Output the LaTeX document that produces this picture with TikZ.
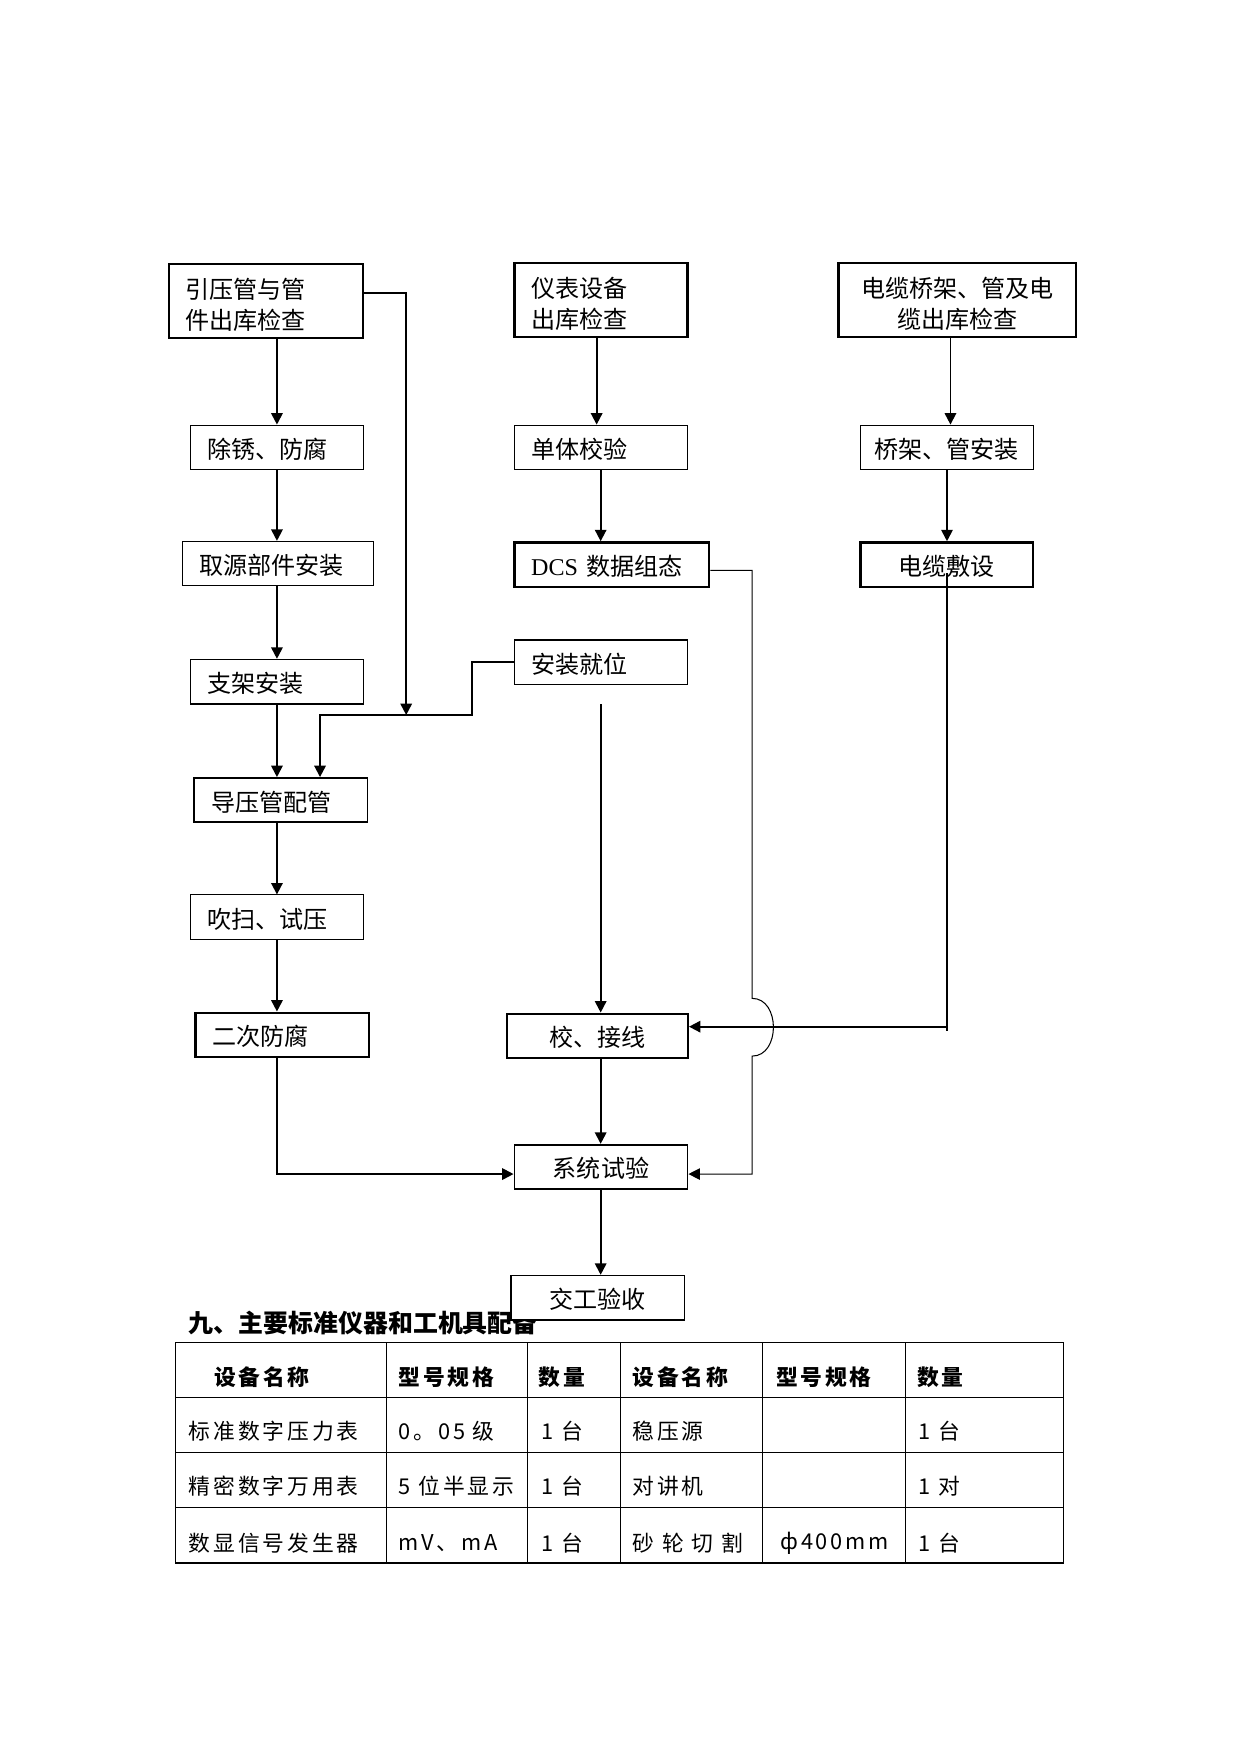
\documentclass[tikz,border=0pt]{standalone}
\usepackage{fontspec}
\setmainfont{Liberation Serif}
\newfontfamily\cjk{Noto Sans CJK SC}
\newfontfamily\cjksp[LetterSpace=13]{Noto Sans CJK SC}
\usetikzlibrary{arrows.meta}
\newcommand{\pu}{0.1895mm}
\tikzset{
	box/.style={draw, fill=white, inner ysep=0pt, minimum height=39.6*\pu, text height=11.5pt, font=\cjk\fontsize{11.6}{14.8}\selectfont},
	twoline/.style={minimum height=65.6*\pu, text height=13.2pt},
	thinbox/.style={box, line width=0.5pt},
	midbox/.style={box, line width=0.8pt},
	thickbox/.style={box, line width=1.1pt},
	lbox/.style={align=left, inner xsep=15*\pu, minimum width=#1*\pu, text width=#1*\pu-30*\pu},
	cbox/.style={align=center, inner xsep=0pt, minimum width=#1*\pu, text width=#1*\pu},
	arr/.style={-{Triangle[length=5.5pt,width=5.5pt]}, line width=0.9pt},
	thinarr/.style={-{Triangle[length=5.5pt,width=5.5pt]}, line width=0.5pt},
	cell/.style={anchor=west, inner sep=0pt, font=\cjksp\fontsize{10.5}{12}\selectfont},
	headcell/.style={cell, font=\cjksp\bfseries\fontsize{10.5}{12}\selectfont}
}
\begin{document}
\begin{tikzpicture}[x=\pu, y=-\pu]
	\useasboundingbox (0,0) rectangle (1109,1567.5);

	\node[anchor=west, inner sep=0pt, font=\cjk\bfseries\fontsize{12}{14}\selectfont] (title) at (168.5,1182.4) {九、主要标准仪器和工机具配备};

	\node[thickbox, lbox=173.8, twoline] (yinya) at (237.8,269) {引压管与管\\件出库检查};
	\node[thickbox, lbox=154.8, twoline] (yibiao) at (537.1,268.1) {仪表设备\\出库检查};
	\node[thickbox, cbox=212.4, twoline] (qiaojiack) at (855.6,268.1) {电缆桥架、管及电\\缆出库检查};
	\node[thinbox, lbox=154.4] (chuxiu) at (247.5,399.7) {除锈、防腐};
	\node[thinbox, lbox=154.8] (danti) at (537.1,399.7) {单体校验};
	\node[thinbox, cbox=154.4] (qiaojia) at (846.1,399.7) {桥架、管安装};
	\node[thinbox, lbox=170.7] (quyuan) at (248.25,503.6) {取源部件安装};
	\node[thickbox, lbox=174.2] (dcs) at (546.8,504.5) {{\rmfamily DCS} 数据组态};
	\node[thickbox, cbox=154.4] (dianlan) at (846.1,504.5) {电缆敷设};
	\node[thinbox, lbox=154.8] (anzhuang) at (537.1,591.75) {安装就位};
	\node[midbox, lbox=154.8] (zhijia) at (247.5,609.3) {支架安装};
	\node[midbox, lbox=154.8] (daoya) at (251,715) {导压管配管};
	\node[thinbox, lbox=154.8] (chuisao) at (247.5,819.6) {吹扫、试压};
	\node[thickbox, lbox=155.1] (erci) at (252.25,924.8) {二次防腐};
	\node[thickbox, cbox=161.9] (jiaojx) at (533.75,925.7) {校、接线};
	\node[midbox, cbox=154.8] (xitong) at (537.1,1042.75) {系统试验};
	\node[midbox, cbox=154.8] (jiaogong) at (534.2,1159.8) {交工验收};

	\coordinate (colL) at (247.5,0);
	\coordinate (colB) at (533.2,0);
	\coordinate (colM) at (536.8,0);
	\coordinate (colC) at (849.4,0);
	\coordinate (colR) at (846.3,0);
	\coordinate (aline) at (0,261.5);
	\coordinate (dline) at (0,509.7);
	\coordinate (cline) at (0,917.5);
	\coordinate (xline) at (0,1049.2);
	\coordinate (bus) at (363,639);
	\coordinate (busR) at (421.5,639);
	\coordinate (busL) at (286,639);
	\coordinate (azdrop) at (536.8,629.4);
	\coordinate (cabtop) at (846.3,512);
	\coordinate (cabend) at (846.3,921.5);
	\coordinate (hoptop) at (672.2,892.2);
	\coordinate (hopbot) at (672.2,943.8);

	\draw[arr] (yinya.south -| colL) -- (chuxiu.north -| colL);
	\draw[arr] (chuxiu.south -| colL) -- (quyuan.north -| colL);
	\draw[arr] (quyuan.south -| colL) -- (zhijia.north -| colL);
	\draw[arr] (zhijia.south -| colL) -- (daoya.north -| colL);
	\draw[arr] (daoya.south -| colL) -- (chuisao.north -| colL);
	\draw[arr] (chuisao.south -| colL) -- (erci.north -| colL);
	\draw[arr] (erci.south -| colL) |- (xitong.west |- xline);
	\draw[arr] (yinya.east |- aline) -| (bus);
	\draw[arr] (anzhuang.west) -| (busR) -- (busL) -- (daoya.north -| busL);

	\draw[arr] (yibiao.south -| colB) -- (danti.north -| colB);
	\draw[arr] (danti.south -| colM) -- (dcs.north -| colM);
	\draw[arr] (azdrop) -- (jiaojx.north -| colM);
	\draw[arr] (jiaojx.south -| colM) -- (xitong.north -| colM);
	\draw[arr] (xitong.south -| colM) -- (jiaogong.north -| colM);

	\draw[arr] (qiaojiack.south -| colC) -- (qiaojia.north -| colC);
	\draw[arr] (qiaojia.south -| colR) -- (dianlan.north -| colR);
	\draw[line width=0.9pt] (cabtop) -- (cabend);
	\draw[arr] (cabend |- cline) -- (jiaojx.east |- cline);
	\draw[thinarr] (dcs.east |- dline) -| (hoptop) .. controls (697.5,892.2) and (697.5,943.8) .. (hopbot) |- (xitong.east |- xline);

	\draw[line width=0.5pt] (157,1199.9) rectangle (950.2,1396.8);
	\draw[line width=0.5pt] (157,1248.7) -- (950.2,1248.7);
	\draw[line width=0.5pt] (157,1297.9) -- (950.2,1297.9);
	\draw[line width=0.5pt] (157,1347) -- (950.2,1347);
	\draw[line width=0.5pt] (345.3,1199.9) -- (345.3,1396.8);
	\draw[line width=0.5pt] (471.4,1199.9) -- (471.4,1396.8);
	\draw[line width=0.5pt] (554.7,1199.9) -- (554.7,1396.8);
	\draw[line width=0.5pt] (681.2,1199.9) -- (681.2,1396.8);
	\draw[line width=0.5pt] (809,1199.9) -- (809,1396.8);

	\node[headcell] (h1) at (190.9,1230.8) {设备名称};
	\node[headcell] (h2) at (355.9,1230.8) {型号规格};
	\node[headcell] (h3) at (481.3,1230.8) {数量};
	\node[headcell] (h4) at (564.8,1230.8) {设备名称};
	\node[headcell] (h5) at (693.2,1230.8) {型号规格};
	\node[headcell] (h6) at (819.2,1230.8) {数量};

	\node[cell] (a1) at (168.5,1279.4) {标准数字压力表};
	\node[cell] (b1) at (355.9,1279.4) {0。05 级};
	\node[cell] (c1) at (483.5,1279.4) {1 台};
	\node[cell] (d1) at (565,1279.4) {稳压源};
	\node[cell] (f1) at (820.7,1279.4) {1 台};

	\node[cell] (a2) at (168.5,1328.5) {精密数字万用表};
	\node[cell] (b2) at (355.9,1328.5) {5 位半显示};
	\node[cell] (c2) at (483.5,1328.5) {1 台};
	\node[cell] (d2) at (565,1328.5) {对讲机};
	\node[cell] (f2) at (820.7,1328.5) {1 对};

	\node[cell] (a3) at (168.5,1379.2) {数显信号发生器};
	\node[cell] (b3) at (355.9,1379.2) {mV、mA};
	\node[cell] (c3) at (483.5,1379.2) {1 台};
	\node[cell] (d3) at (565,1379.2) {砂 轮 切 割};
	\node[cell] (e3) at (697,1379.2) {ф400mm};
	\node[cell] (f3) at (820.7,1379.2) {1 台};
\end{tikzpicture}
\end{document}
